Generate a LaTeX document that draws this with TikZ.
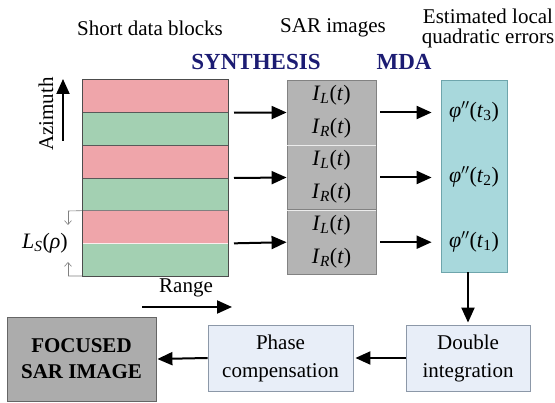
\documentclass[tikz,border=0pt]{standalone}
\usepackage{fontspec}
\setmainfont{LiberationSerif}[Extension=.ttf, UprightFont=*-Regular, ItalicFont=*-Italic, BoldFont=*-Bold, BoldItalicFont=*-BoldItalic]
\usetikzlibrary{arrows.meta}
\definecolor{pinkc}{RGB}{239,165,170}
\definecolor{greenc}{RGB}{163,208,178}
\definecolor{cyanc}{RGB}{168,216,220}
\definecolor{cyanb}{RGB}{110,165,172}
\definecolor{grayc}{RGB}{180,180,180}
\definecolor{grayb}{RGB}{130,130,130}
\definecolor{lbluec}{RGB}{232,238,248}
\definecolor{lblueb}{RGB}{140,152,168}
\definecolor{focc}{RGB}{172,172,172}
\definecolor{navyc}{RGB}{28,28,115}
\newcommand{\myIL}{\textit{I}\textsubscript{\textit{L}}(\textit{t})}
\newcommand{\myIR}{\textit{I}\textsubscript{\textit{R}}(\textit{t})}
\newcommand{\myphi}[1]{\textit{φ}$''$(\textit{t}\textsubscript{#1})}
\begin{document}
\begin{tikzpicture}[x=1pt,y=-1pt,
  lbl/.style={font=\fontsize{21}{24}\selectfont, inner sep=0pt},
  ttl/.style={font=\fontsize{23}{26}\selectfont\bfseries, text=navyc, inner sep=0pt},
  stripe/.style={minimum width=146pt, minimum height=32.67pt, inner sep=0pt, outer sep=0pt, draw=none},
  graybox/.style={fill=grayc, draw=grayb, line width=0.8pt, minimum width=89pt, minimum height=65pt, inner sep=0pt},
  lbox/.style={fill=lbluec, draw=lblueb, line width=0.8pt, inner sep=0pt, align=center,
    font=\fontsize{21}{28}\selectfont},
  fml/.style={font=\fontsize{22}{24}\selectfont, inner sep=0pt},
  arr/.style={line width=2pt, -{Triangle[length=15pt,width=13pt]}},
  thin/.style={draw=gray, line width=0.6pt},
  thinarr/.style={draw=gray, line width=0.6pt, -{Straight Barb[length=4pt,width=7pt]}}
]
\useasboundingbox (0,0) rectangle (555,403);

% headings
\node[lbl] (h1) at (150,28) {Short data blocks};
\node[lbl] (h2) at (333,28) {SAR images};
\node[lbl] (h3) at (488,16) {Estimated local};
\node[lbl] (h4) at (488,38) {quadratic errors};
\node[ttl] (t1) at (256,62) {SYNTHESIS};
\node[ttl] (t2) at (404,62) {MDA};

% stripes
\node[stripe, fill=pinkc]  (s1) at (155,96.33) {};
\node[stripe, fill=greenc] (s2) at (155,129) {};
\node[stripe, fill=pinkc]  (s3) at (155,161.67) {};
\node[stripe, fill=greenc] (s4) at (155,194.33) {};
\node[stripe, fill=pinkc]  (s5) at (155,227) {};
\node[stripe, fill=greenc] (s6) at (155,259.67) {};
\draw[line width=1pt, draw=black!65] (s1.south west) -- (s1.south east);
\draw[line width=1pt, draw=black!65] (s2.south west) -- (s2.south east);
\draw[line width=1pt, draw=black!65] (s3.south west) -- (s3.south east);
\draw[line width=0.8pt, draw=black!50] (s4.south west) -- (s4.south east);
\draw[line width=0.6pt, draw=white!80!pinkc] (s5.south west) -- (s5.south east);
\draw[line width=1pt, draw=black!70] (s1.north west) rectangle (s6.south east);

% azimuth
\coordinate (azb) at (63,141);
\coordinate (azt) at (63,79);
\draw[arr] (azb) -- (azt);
\node[lbl, rotate=90] (az) at (46,114) {Azimuth};

% L_S bracket
\coordinate (b1) at (68,211);
\coordinate (b2) at (68,276);
\coordinate (b1d) at (68,225);
\coordinate (b2u) at (68,262);
\draw[thin] (s5.north west) -- (b1);
\draw[thinarr] (b1) -- (b1d);
\draw[thin] (s6.south west) -- (b2);
\draw[thinarr] (b2) -- (b2u);
\node[fml] (ls) at (45,243) {\textit{L}\textsubscript{\textit{S}}(\textit{ρ})};

% range
\node[lbl] (rg) at (186,288) {Range};
\coordinate (rga) at (142,307);
\coordinate (rgb) at (232,307);
\draw[arr] (rga) -- (rgb);

% gray boxes
\node[graybox] (g1) at (331.5,112.5) {};
\node[graybox] (g2) at (331.5,177.5) {};
\node[graybox] (g3) at (331.5,242.2) {};
\draw[white!85!gray, line width=1pt] (g1.south west) -- (g1.south east);
\draw[white!85!gray, line width=1pt] (g2.south west) -- (g2.south east);
\node[fml] (l1) at (331.5,95) {\myIL};
\node[fml] (r1) at (331.5,128) {\myIR};
\node[fml] (l2) at (331.5,160) {\myIL};
\node[fml] (r2) at (331.5,193) {\myIR};
\node[fml] (l3) at (331.5,225) {\myIL};
\node[fml] (r3) at (331.5,258) {\myIR};

% cyan box
\node[fill=cyanc, draw=cyanb, line width=0.8pt, minimum width=66pt, minimum height=192pt, inner sep=0pt] (c) at (474,176) {};
\node[fml] (p3) at (474,112) {\myphi{3}};
\node[fml] (p2) at (474,177) {\myphi{2}};
\node[fml] (p1) at (474,242) {\myphi{1}};

% arrows stripes -> gray
\draw[arr] ([xshift=6pt]s1.south east) -- (g1.west);
\draw[arr] ([xshift=6pt]s3.south east) -- (g2.west);
\draw[arr] ([xshift=6pt]s5.south east) -- (g3.west);
% arrows gray -> cyan
\draw[arr] ([xshift=4pt]g1.east) -- ([xshift=-9pt]c.west |- g1.east);
\draw[arr] ([xshift=4pt]g2.east) -- ([xshift=-9pt]c.west |- g2.east);
\draw[arr] ([xshift=4pt]g3.east) -- ([xshift=-9pt]c.west |- g3.east);

% bottom boxes
\node[lbox, minimum width=124pt, minimum height=66pt] (d) at (468,358) {Double\\integration};
\node[lbox, minimum width=145pt, minimum height=66pt] (p) at (280.5,358) {Phase\\compensation};
\node[fill=focc, draw=black!60, line width=0.8pt, minimum width=149pt, minimum height=84pt, inner sep=0pt, align=center,
  font=\fontsize{21}{26}\selectfont\bfseries] (f) at (81.5,359) {FOCUSED\\SAR IMAGE};

\draw[arr] (d.north |- c.south) -- ([yshift=2pt]d.north);
\draw[arr] (d.west) -- ([xshift=2pt]p.east);
\draw[arr] (p.west) -- ([xshift=1pt]f.east);
\end{tikzpicture}
\end{document}
